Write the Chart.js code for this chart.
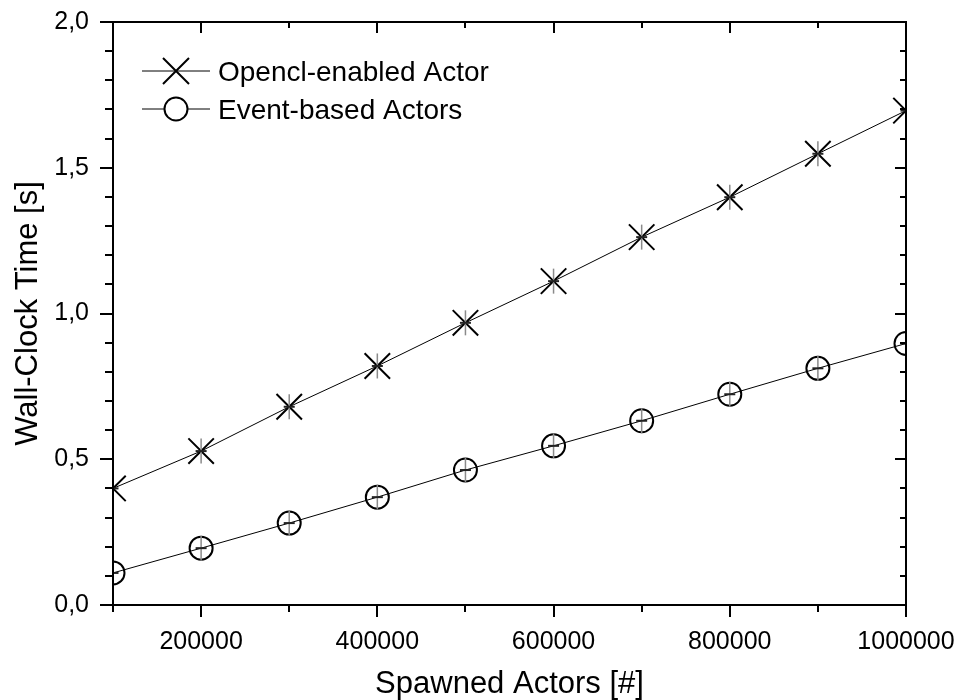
<!DOCTYPE html>
<html>
<head>
<meta charset="utf-8">
<script src="https://cdn.jsdelivr.net/npm/chart.js@4/dist/chart.umd.min.js"></script>
<style>
  html, body { margin: 0; padding: 0; background: #ffffff; }
  #wrap { width: 957px; height: 700px; position: relative; }
</style>
</head>
<body>
<div id="wrap"><canvas id="c" width="957" height="700"></canvas></div>
<script>
// ---- data ----
const spawnedActors = [100000, 200000, 300000, 400000, 500000, 600000, 700000, 800000, 900000, 1000000];
const openclEnabled = [0.40, 0.528, 0.68, 0.82, 0.968, 1.111, 1.262, 1.399, 1.548, 1.696];
const eventBased    = [0.11, 0.195, 0.281, 0.37, 0.463, 0.546, 0.632, 0.723, 0.812, 0.897];
const seriesLabels  = ['Opencl-enabled Actor', 'Event-based Actors'];
const xTitle = 'Spawned Actors [#]';
const yTitle = 'Wall-Clock Time [s]';

const FONT = '"Liberation Sans", Arial, sans-serif';

function toPoints(ys) { return spawnedActors.map((x, i) => ({ x: x, y: ys[i] })); }

const frameTicks = {
  id: 'frameTicks',
  afterDraw(chart) {
    const ctx = chart.ctx, a = chart.chartArea;
    const xs = chart.scales.x, ys = chart.scales.y;
    ctx.save();
    ctx.strokeStyle = '#000';
    ctx.lineWidth = 2;
    ctx.strokeRect(a.left, a.top, a.right - a.left, a.bottom - a.top);
    ctx.beginPath();
    xs.ticks.forEach(t => {
      const px = Math.round(xs.getPixelForValue(t.value));
      const major = Math.round(t.value / 100000) % 2 === 0;
      const lb = major ? 12 : 7, lt = major ? 11 : 6;
      ctx.moveTo(px, a.bottom); ctx.lineTo(px, a.bottom + lb);
      ctx.moveTo(px, a.top); ctx.lineTo(px, a.top + lt);
    });
    ys.ticks.forEach(t => {
      const py = Math.round(ys.getPixelForValue(t.value));
      const major = Math.round(t.value * 10) % 5 === 0;
      const ll = major ? 13 : 8, lr = major ? 11 : 6;
      ctx.moveTo(a.left, py); ctx.lineTo(a.left - ll, py);
      ctx.moveTo(a.right, py); ctx.lineTo(a.right - lr, py);
    });
    ctx.stroke();
    ctx.restore();
  }
};

const errorBars = {
  id: 'errorBars',
  afterDatasetsDraw(chart) {
    const ctx = chart.ctx, a = chart.chartArea;
    ctx.save();
    ctx.beginPath();
    ctx.rect(a.left, a.top, a.right - a.left, a.bottom - a.top);
    ctx.clip();
    chart.data.datasets.forEach((ds, di) => {
      const meta = chart.getDatasetMeta(di);
      meta.data.forEach(p => {
        ctx.strokeStyle = '#8a8a8a';
        ctx.lineWidth = 1.5;
        ctx.beginPath();
        ctx.moveTo(p.x, p.y - 12.5); ctx.lineTo(p.x, p.y + 12.5);
        ctx.stroke();
        ctx.strokeStyle = '#222';
        ctx.lineWidth = 2;
        ctx.beginPath();
        ctx.moveTo(p.x - 5.5, p.y); ctx.lineTo(p.x + 5.5, p.y);
        ctx.stroke();
      });
    });
    ctx.restore();
  }
};

const legendBox = {
  id: 'legendBox',
  afterDraw(chart) {
    const ctx = chart.ctx;
    const rows = [71, 109];
    ctx.save();
    chart.data.datasets.forEach((ds, i) => {
      const y = rows[i];
      ctx.strokeStyle = '#000';
      ctx.lineWidth = 1;
      ctx.beginPath();
      ctx.moveTo(142, y); ctx.lineTo(210, y);
      ctx.stroke();
      ctx.lineWidth = 2;
      if (ds.pointStyle === 'crossRot') {
        const r = 13;
        ctx.beginPath();
        ctx.moveTo(176 - r, y - r); ctx.lineTo(176 + r, y + r);
        ctx.moveTo(176 - r, y + r); ctx.lineTo(176 + r, y - r);
        ctx.stroke();
      } else {
        ctx.fillStyle = '#fff';
        ctx.beginPath();
        ctx.arc(176, y, 11.5, 0, Math.PI * 2);
        ctx.fill();
        ctx.stroke();
      }
      ctx.fillStyle = '#000';
      ctx.font = '28px ' + FONT;
      ctx.textBaseline = 'middle';
      ctx.textAlign = 'left';
      ctx.fillText(ds.label, 218, y + 2);
    });
    ctx.restore();
  }
};

new Chart(document.getElementById('c'), {
  type: 'line',
  data: {
    datasets: [
      {
        label: seriesLabels[0],
        data: toPoints(openclEnabled),
        borderColor: '#000', borderWidth: 1,
        pointStyle: 'crossRot', pointRadius: 18, pointBorderWidth: 2,
        pointBorderColor: '#000', pointBackgroundColor: '#000',
        tension: 0, clip: 0
      },
      {
        label: seriesLabels[1],
        data: toPoints(eventBased),
        borderColor: '#000', borderWidth: 1,
        pointStyle: 'circle', pointRadius: 11.5, pointBorderWidth: 2,
        pointBorderColor: '#000', pointBackgroundColor: 'rgba(0,0,0,0)',
        tension: 0, clip: 0
      }
    ]
  },
  options: {
    responsive: false,
    animation: false,
    events: [],
    layout: { padding: { left: 0, top: 22, right: 51, bottom: 0 } },
    plugins: { legend: { display: false }, tooltip: { enabled: false } },
    scales: {
      x: {
        type: 'linear', min: 100000, max: 1000000,
        grid: { display: false }, border: { display: false },
        afterFit(s) { s.height = 95; s.paddingLeft = 0; s.paddingRight = 0; },
        ticks: {
          stepSize: 100000, autoSkip: false, maxRotation: 0, padding: 14,
          color: '#000', font: { family: FONT, size: 25 },
          callback: v => (Math.round(v / 100000) % 2 === 0 ? String(v) : '')
        },
        title: { display: true, text: xTitle, color: '#000', font: { family: FONT, size: 31 }, padding: { top: 0, bottom: -3 } }
      },
      y: {
        type: 'linear', min: 0, max: 2,
        grid: { display: false }, border: { display: false },
        afterFit(s) { s.width = 113; s.paddingTop = 0; s.paddingBottom = 0; },
        ticks: {
          stepSize: 0.1, autoSkip: false, padding: 16,
          color: '#000', font: { family: FONT, size: 25 },
          callback: v => (Math.round(v * 10) % 5 === 0 ? v.toFixed(1).replace('.', ',') : '')
        },
        title: { display: true, text: yTitle, color: '#000', font: { family: FONT, size: 31 }, padding: { top: 10, bottom: 0 } }
      }
    }
  },
  plugins: [errorBars, frameTicks, legendBox]
});
</script>
</body>
</html>
